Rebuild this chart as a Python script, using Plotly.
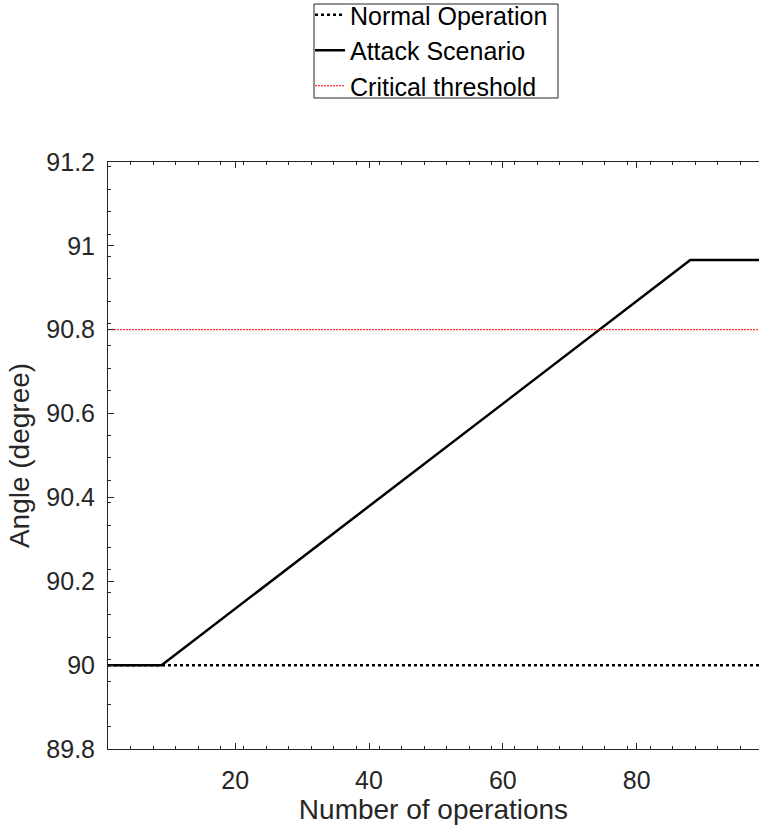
import plotly.graph_objects as go

# Data
normal_x = [1, 99]
normal_y = [90, 90]

attack_x = [1, 9, 88, 99]
attack_y = [90.0, 90.0, 90.966, 90.966]

threshold_x = [1, 99]
threshold_y = [90.8, 90.8]

x_ticks = [20, 40, 60, 80]
x_tick_labels = ["20", "40", "60", "80"]
y_ticks = [89.8, 90.0, 90.2, 90.4, 90.6, 90.8, 91.0, 91.2]
y_tick_labels = ["89.8", "90", "90.2", "90.4", "90.6", "90.8", "91", "91.2"]

FONT = "Liberation Sans, Arial, Helvetica, sans-serif"
AX = "#262626"

PLOT_L, PLOT_W, PLOT_T, PLOT_H = 108, 651, 162, 587


def px_x(p):
    return (p - PLOT_L) / PLOT_W


def px_y(p):
    return 1 + (PLOT_T - p) / PLOT_H


fig = go.Figure()
fig.add_trace(go.Scatter(x=normal_x, y=normal_y, mode="lines", name="Normal Operation",
                         line=dict(color="black", width=2.5, dash="3px,3px")))
fig.add_trace(go.Scatter(x=attack_x, y=attack_y, mode="lines", name="Attack Scenario",
                         line=dict(color="black", width=2.5)))
fig.add_trace(go.Scatter(x=threshold_x, y=threshold_y, mode="lines", name="Critical threshold",
                         line=dict(color="#ff0000", width=1, dash="2px,1px")))

# legend frame
fig.add_shape(type="rect", xref="paper", yref="paper",
              x0=px_x(314), x1=px_x(558), y0=px_y(98), y1=px_y(4),
              line=dict(color=AX, width=1), fillcolor="white", layer="below")

fig.update_layout(
    width=759, height=828,
    margin=dict(l=PLOT_L, r=0, t=PLOT_T, b=79, pad=0, autoexpand=False),
    paper_bgcolor="white", plot_bgcolor="white",
    font=dict(family=FONT, color=AX),
    showlegend=True,
    legend=dict(x=px_x(310), y=px_y(-8), xanchor="left", yanchor="top",
                bgcolor="rgba(0,0,0,0)", borderwidth=0,
                font=dict(family=FONT, size=25, color="black"),
                tracegroupgap=0),
    xaxis=dict(range=[1, 98.27], showline=True, linecolor=AX, linewidth=1, mirror="ticks",
               ticks="inside", ticklen=6, tickcolor=AX, tickwidth=1,
               tickvals=x_ticks, ticktext=x_tick_labels,
               tickfont=dict(size=25, color=AX), ticklabelstandoff=9,
               showgrid=False, zeroline=False,
               minor=dict(ticks="inside", ticklen=3, tickcolor=AX, tick0=1, dtick=3.3746, showgrid=False),
               title=dict(text="Number of operations", font=dict(size=28, color=AX), standoff=0)),
    yaxis=dict(range=[89.8, 91.2], showline=True, linecolor=AX, linewidth=1, mirror=False,
               ticks="inside", ticklen=6, tickcolor=AX, tickwidth=1,
               tickvals=y_ticks, ticktext=y_tick_labels,
               tickfont=dict(size=25, color=AX), ticklabelstandoff=7,
               showgrid=False, zeroline=False,
               minor=dict(ticks="inside", ticklen=3, tickcolor=AX, tick0=89.8, dtick=0.0534, showgrid=False),
               title=dict(text="Angle (degree)", font=dict(size=28, color=AX), standoff=8)),
)

fig.write_html("out.html")
